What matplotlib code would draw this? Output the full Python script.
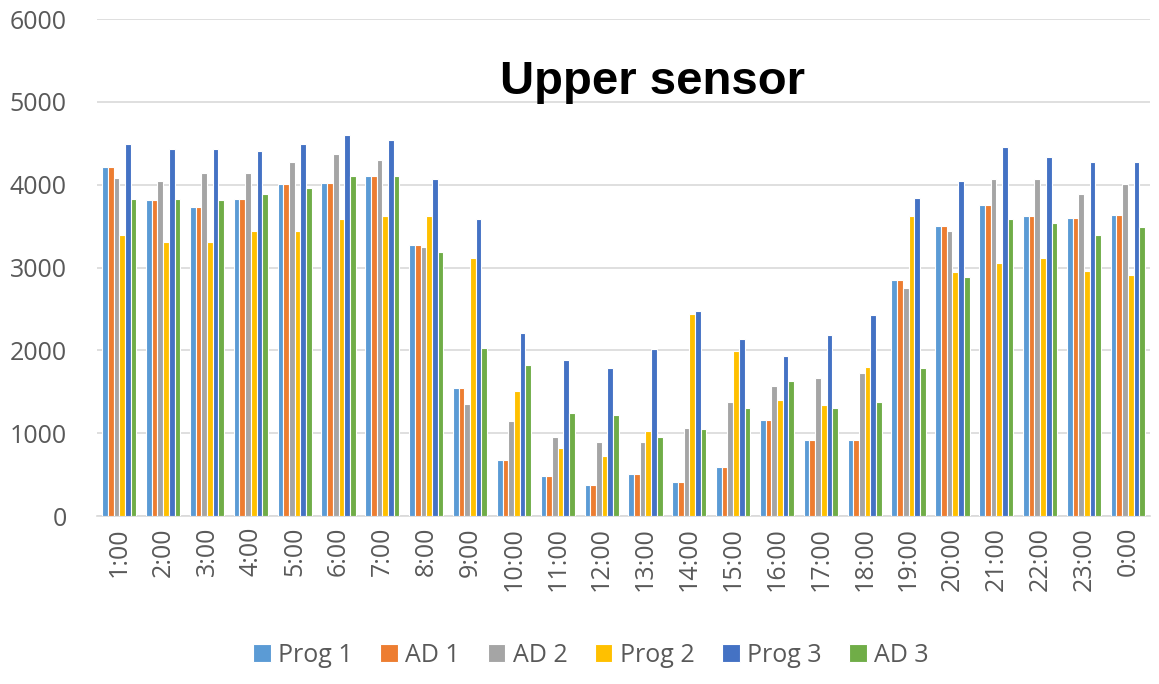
# Upper sensor readings per hour, grouped bar chart
import numpy as np
import matplotlib.pyplot as plt

hours = ['1:00', '2:00', '3:00', '4:00', '5:00', '6:00', '7:00', '8:00',
         '9:00', '10:00', '11:00', '12:00', '13:00', '14:00', '15:00', '16:00',
         '17:00', '18:00', '19:00', '20:00', '21:00', '22:00', '23:00', '0:00']

prog1 = [4213, 3815, 3734, 3831, 4004, 4024, 4101, 3267, 1551, 681, 487, 370,
         508, 407, 588, 1164, 914, 914, 2848, 3501, 3754, 3621, 3597, 3638]
ad1 = [4213, 3815, 3734, 3831, 4004, 4024, 4101, 3267, 1551, 681, 487, 370,
       508, 407, 588, 1164, 914, 914, 2848, 3501, 3754, 3621, 3597, 3638]
ad2 = [4081, 4045, 4141, 4141, 4274, 4371, 4294, 3251, 1357, 1144, 951, 894,
       894, 1067, 1378, 1571, 1668, 1724, 2751, 3444, 4064, 4064, 3888, 4004]
prog2 = [3388, 3307, 3307, 3444, 3444, 3581, 3617, 3617, 3114, 1515, 818, 721,
         1027, 2441, 1994, 1398, 1337, 1801, 3621, 2941, 3057, 3118, 2961, 2904]
prog3 = [4492, 4431, 4431, 4411, 4492, 4604, 4544, 4064, 3581, 2207, 1881, 1785,
         2014, 2477, 2131, 1937, 2191, 2421, 3835, 4045, 4451, 4334, 4274, 4274]
ad3 = [3831, 3831, 3815, 3888, 3964, 4101, 4101, 3190, 2034, 1821, 1241, 1220,
       951, 1047, 1301, 1627, 1301, 1378, 1785, 2885, 3581, 3541, 3388, 3484]

series = [('Prog 1', prog1, '#5B9BD5'),
          ('AD 1', ad1, '#ED7D31'),
          ('AD 2', ad2, '#A5A5A5'),
          ('Prog 2', prog2, '#FFC000'),
          ('Prog 3', prog3, '#4472C4'),
          ('AD 3', ad3, '#70AD47')]

text_grey = '#595959'
plt.rcParams['font.family'] = ['Open Sans', 'DejaVu Sans']

fig = plt.figure(figsize=(11.59, 6.84), dpi=100)
ax = fig.add_axes([0.084, 0.2456, 0.908, 0.7266])

x = np.arange(len(hours))
width = 0.13
for i, (name, vals, col) in enumerate(series):
    offset = (i - 2.5) * width
    ax.bar(x + offset, vals, width, color=col, edgecolor='white',
           linewidth=0.8, label=name, zorder=3)

ax.set_xlim(-0.5, len(hours) - 0.5)
ax.set_ylim(0, 6000)
ax.set_yticks(range(0, 6001, 1000))
ax.yaxis.grid(True, color='#d9d9d9', linewidth=1.2, zorder=0)
ax.set_axisbelow(True)

for side in ['top', 'right', 'left']:
    ax.spines[side].set_visible(False)
ax.spines['bottom'].set_color('#d9d9d9')
ax.spines['bottom'].set_linewidth(1.2)

ax.set_xticks(x)
ax.set_xticklabels(hours, rotation=90, fontsize=18, color=text_grey)
ax.tick_params(axis='both', length=0, labelsize=18, colors=text_grey)
ax.tick_params(axis='x', pad=8)
ax.tick_params(axis='y', pad=22)
for lab in ax.get_yticklabels():
    lab.set_color(text_grey)

fig.text(0.563, 0.88, 'Upper sensor', ha='center', va='center',
         fontsize=34, fontweight='bold', family='Liberation Sans', color='black')

fig.legend(loc='center', bbox_to_anchor=(0.51, 0.042), ncol=6, frameon=False,
           fontsize=18, handlelength=0.7, handleheight=0.7, handletextpad=0.3,
           columnspacing=1.1, labelcolor=text_grey)

plt.savefig('out.png', dpi=100)
